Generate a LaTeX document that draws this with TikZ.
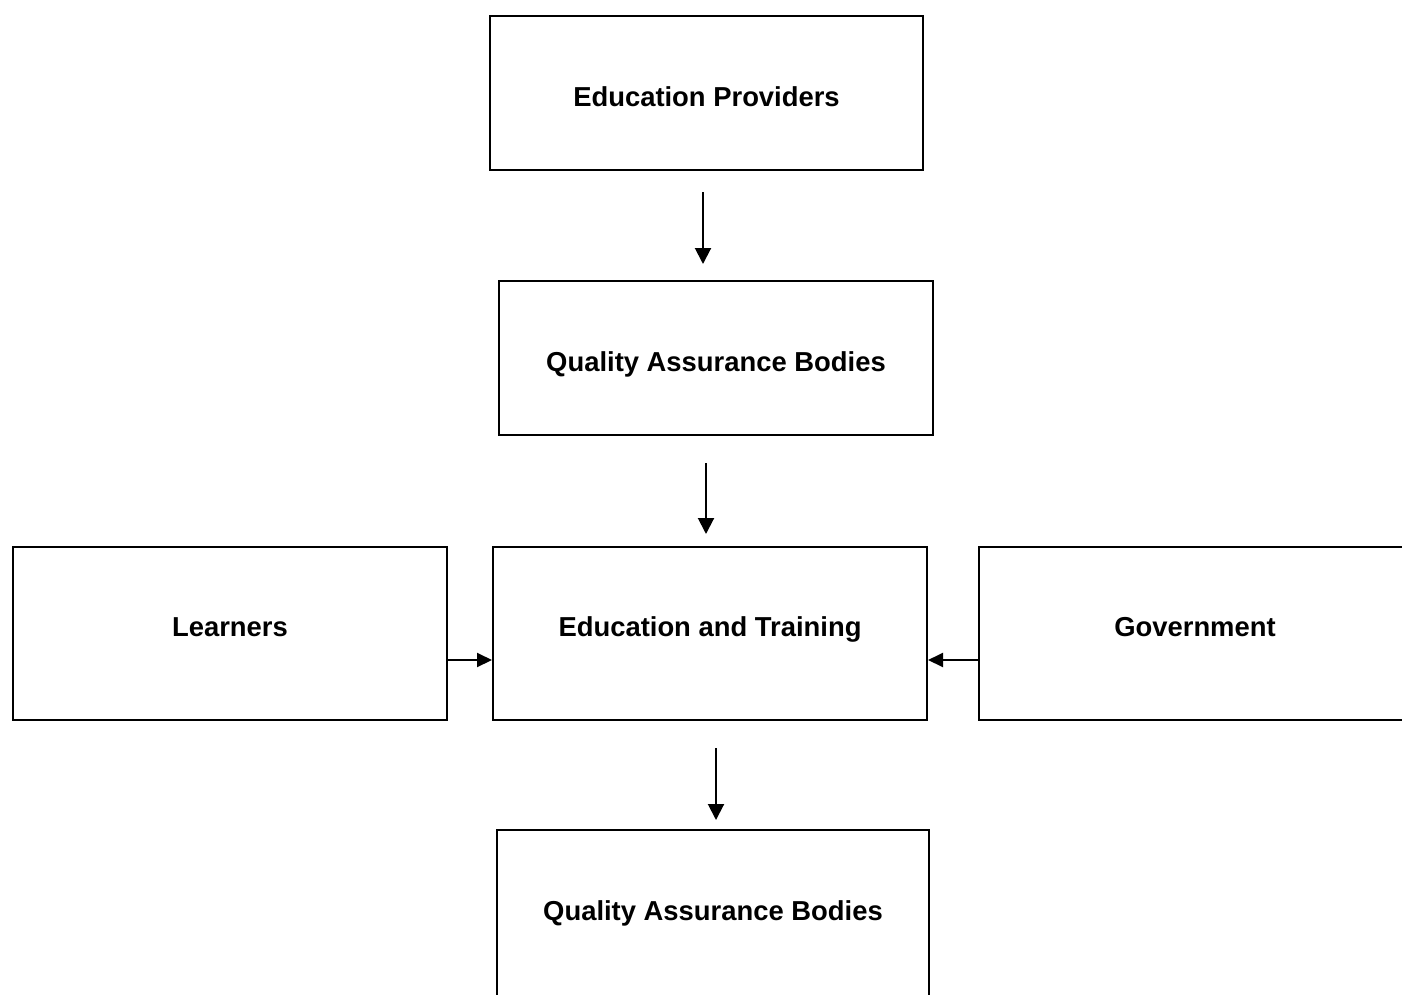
\documentclass[tikz,border=0pt]{standalone}
\usepackage{fontspec}
\setmainfont{Liberation Sans}
\usetikzlibrary{arrows.meta}

\begin{document}
\begin{tikzpicture}[x=0.5pt, y=-0.5pt,
  box/.style={draw, line width=1pt, inner sep=0pt, text depth=0pt,
    font=\fontsize{13.7}{16}\selectfont\bfseries},
  flow/.style={line width=1pt, -{Triangle[length=8pt, width=8pt]}},
  feed/.style={line width=1pt, -{Triangle[length=7.5pt, width=7pt]}}]
  % page area
  \clip (0,0) rectangle (1402,995);
  \fill[white] (0,0) rectangle (1402,995);

  % boxes
  \node[box, minimum width=216.5pt, minimum height=77pt, text height=14pt]
    (prov) at (706.5,93) {Education Providers};
  \node[box, minimum width=217pt, minimum height=77pt, text height=13pt]
    (qab1) at (716,358) {Quality Assurance Bodies};
  \node[box, minimum width=217pt, minimum height=86.5pt, text height=3pt]
    (learn) at (230,633.5) {Learners};
  \node[box, minimum width=217pt, minimum height=86.5pt, text height=3pt]
    (edu) at (710,633.5) {Education and Training};
  \node[box, minimum width=216pt, minimum height=86.5pt, text height=3pt]
    (gov) at (1195,633.5) {Government};
  \node[box, minimum width=216pt, minimum height=86.5pt, text height=4pt]
    (qab2) at (713,916.5) {Quality Assurance Bodies};

  % vertical arrows between the stacked boxes
  \coordinate (a1s) at (703,192);  \coordinate (a1e) at (703,264);
  \coordinate (a2s) at (706,463);  \coordinate (a2e) at (706,534);
  \coordinate (a3s) at (716,748);  \coordinate (a3e) at (716,820);
  \draw[flow] (a1s) -- (a1e);
  \draw[flow] (a2s) -- (a2e);
  \draw[flow] (a3s) -- (a3e);

  % side inputs into Education and Training
  \draw[feed] (learn.east |- 0,660) -- (edu.west |- 0,660);
  \draw[feed] (gov.west |- 0,660) -- (edu.east |- 0,660);
\end{tikzpicture}
\end{document}
